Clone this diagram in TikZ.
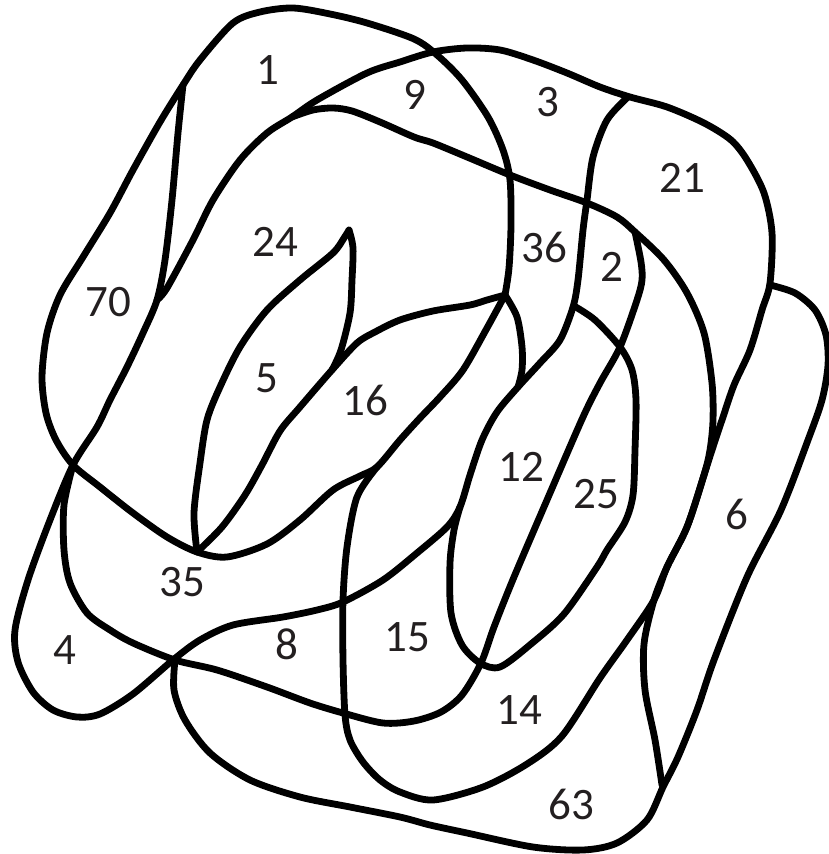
\documentclass[tikz,border=0pt]{standalone}
\usepackage{fontspec}
\setmainfont{Carlito}
\definecolor{txt}{HTML}{231F20}
\tikzset{
  stroke/.style={draw=black,line width=3.4pt,line cap=round,line join=round},
  num/.style={text=txt,font=\fontsize{22.5}{24}\selectfont,inner sep=0pt}
}
\begin{document}
\begin{tikzpicture}[x=0.5pt,y=-0.5pt]
\useasboundingbox (0,0) rectangle (828,854);
% big top-left loop
\draw[stroke] plot[smooth] coordinates {(505,295) (509,268) (511,225) (510,180) (503,150) (488,117) (462,80) (437,55) (414,39) (367,23) (330,14) (293,8) (260,12) (233,23) (200,60) (183,85) (160,122) (133,170) (110,213) (83,257) (60,295) (47,333) (42,377) (46,413) (56,440) (73,465) (100,487) (133,513) (167,537) (197,552) (227,557) (267,544) (300,520) (333,490) (360,476) (377,467) (400,440) (420,418) (440,397) (463,370) (487,328) (505,295)};
% thin line and lower-left loop
\draw[stroke] plot[smooth] coordinates {(183,85) (178,133) (172,200) (165,260) (157,300) (143,333) (127,367) (110,400) (97,427) (73,465) (50,520) (28,580) (15,630) (18,662) (33,692) (53,710) (77,717) (100,714) (133,694) (173,660) (200,640) (233,625) (283,617) (317,610) (343,602) (383,580) (417,553) (447,527) (460,507) (470,475) (482,440) (497,412) (518,387) (540,363) (560,340) (573,307) (578,280) (583,230) (587,200) (593,157) (607,120) (628,97)};
% curve through 9 and 3, right side of 21
\draw[stroke] plot[smooth] coordinates {(157,300) (167,288) (193,240) (213,200) (240,160) (267,133) (292,117) (317,100) (367,73) (400,62) (433,52) (467,48) (500,50) (533,60) (567,73) (600,87) (630,97) (667,107) (704,123) (731,140) (747,160) (764,193) (772,233) (770,283) (762,310) (750,350) (734,385) (723,417) (712,450) (704,475) (687,527) (667,567) (654,600) (644,644) (645,690) (655,740) (662,785)};
% long curve
\draw[stroke] plot[smooth] coordinates {(292,117) (313,110) (333,108) (352,111) (380,122) (414,137) (433,143) (467,157) (510,175) (550,190) (587,203) (617,217) (635,232) (664,260) (687,293) (704,333) (712,383) (713,420) (710,450) (704,475) (687,527) (667,567) (654,600) (627,640) (600,678) (562,736) (527,764) (483,787) (433,800) (400,792) (380,780) (363,762) (350,740) (345,715) (343,660) (343,600) (347,547) (357,497) (377,467)};
% line from 2 down to the left
\draw[stroke] plot[smooth] coordinates {(635,232) (641,262) (642,280) (637,300) (620,347) (600,383) (583,417) (550,493) (514,577) (494,627) (481,663) (462,695) (441,712) (414,721) (383,723) (343,713) (310,703) (267,687) (217,670) (175,660) (133,643) (110,630) (87,613) (70,583) (64,550) (64,505) (73,465)};
% arch 12/25
\draw[stroke] plot[smooth] coordinates {(574,306) (595,320) (620,347) (632,370) (636,400) (635,450) (633,495) (625,522) (607,550) (597,567) (564,614) (531,644) (500,667) (480,663) (462,645) (451,613) (450,563) (454,530) (460,507)};
% short line near 36
\draw[stroke] plot[smooth] coordinates {(505,295) (517,317) (522,347) (522,370) (518,387)};
% spike
\draw[stroke] plot[smooth] coordinates {(197,552) (194,513) (200,463) (207,420) (220,387) (240,347) (267,310) (300,280) (333,253) (344,238) (349,230)};
\draw[stroke] plot[smooth] coordinates {(349,230) (353,248) (352,280) (350,313) (341,350) (332,370)};
% top of 16
\draw[stroke] plot[smooth] coordinates {(505,295) (487,300) (470,305) (433,311) (400,320) (375,332) (357,343) (332,370) (300,407) (280,431) (262,465) (245,495) (222,527) (197,552)};
% shape of 6 and bottom
\draw[stroke] plot[smooth] coordinates {(770,285) (795,293) (815,310) (826,335) (828,365) (822,400) (808,440) (781,510) (747,577) (714,660) (697,710) (678,757) (663,787) (647,820) (617,843) (583,850) (533,847) (467,833) (430,825) (400,817) (350,807) (300,797) (250,780) (210,753) (185,720) (174,690) (175,660)};
% labels
\node[num] (n1) at (268,70) {1};
\node[num] (n9) at (415,95) {9};
\node[num] (n3) at (548,102) {3};
\node[num] (n21) at (682,178) {21};
\node[num] (n70) at (108,302) {70};
\node[num] (n24) at (275,242) {24};
\node[num] (n36) at (544,247) {36};
\node[num] (n2) at (612,267) {2};
\node[num] (n5) at (267,378) {5};
\node[num] (n16) at (365,400) {16};
\node[num] (n12) at (521,467) {12};
\node[num] (n25) at (596,494) {25};
\node[num] (n6) at (737,514) {6};
\node[num] (n35) at (182,582) {35};
\node[num] (n4) at (65,650) {4};
\node[num] (n8) at (287,644) {8};
\node[num] (n15) at (407,637) {15};
\node[num] (n14) at (519,710) {14};
\node[num] (n63) at (571,804) {63};
\end{tikzpicture}
\end{document}
